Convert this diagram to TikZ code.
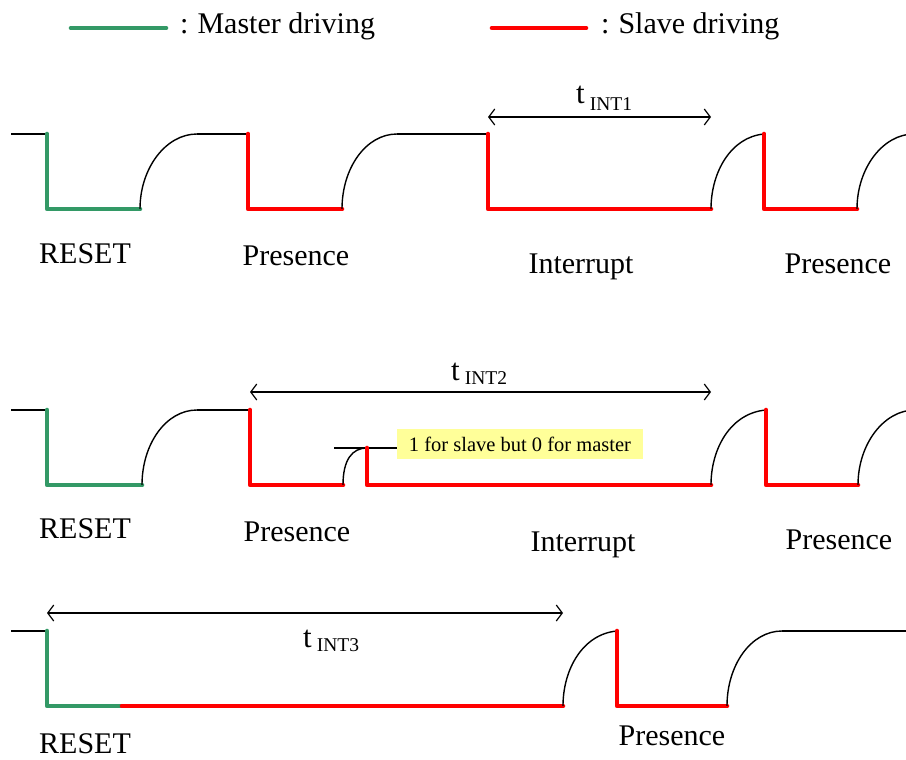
\documentclass[tikz,border=0pt]{standalone}
\usepackage{fontspec}
\setmainfont{Liberation Serif}
\usetikzlibrary{arrows.meta}
\definecolor{mgreen}{HTML}{339966}
\definecolor{sred}{HTML}{FF0000}
\definecolor{noteyel}{HTML}{FFFF99}
\tikzset{
  wire/.style  ={draw=black, line width=1.4pt},
  master/.style={draw=mgreen, line width=4.6pt, line cap=round, line join=round},
  slave/.style ={draw=sred, line width=4.6pt, line cap=round, line join=round},
  span/.style  ={{Straight Barb[length=6pt,width=16pt]}-{Straight Barb[length=6pt,width=16pt]}, line width=1.2pt},
  lbl/.style   ={font=\fontsize{30}{30}\selectfont, inner sep=0pt, anchor=base},
  tlbl/.style  ={font=\fontsize{31}{31}\selectfont, inner sep=0pt, anchor=base west},
  note/.style  ={fill=noteyel, font=\fontsize{20.5}{20.5}\selectfont, inner sep=0pt,
                 minimum width=246pt, minimum height=30pt},
}
% full rise: from low (x1) to high (x2), ends flat
\newcommand{\riseup}[3]{%
  \draw[wire] (#1,#3+75) .. controls (#1,#3+34) and (#2-31,#3) .. (#2,#3);}
% cut rise: ends where the slave pulls low again
\newcommand{\riseto}[3]{%
  \draw[wire] (#1,#3+75) .. controls (#1,#3+38) and (#1+20,#3+3) .. (#2,#3);}
\newcommand{\tint}[2]{t\hspace{5pt}\raisebox{-#2}{\fontsize{19.5}{19.5}\selectfont INT#1}}

\begin{document}
\begin{tikzpicture}[x=1pt,y=-1pt]
  \useasboundingbox (0,0) rectangle (906,760);

  % legend
  \draw[master] (71,28) -- (166,28);
  \node[lbl,anchor=base west] (legm) at (180,34) {:\hspace{-1pt} Master driving};
  \draw[slave] (492,28) -- (586,28);
  \node[lbl,anchor=base west] (legs) at (601,34) {:\hspace{-1pt} Slave driving};

  % row 1
  \draw[wire] (11,134) -- (47,134);
  \draw[master] (47,134) -- (47,209) -- (140,209);
  \riseup{140}{197}{134}
  \draw[wire] (197,134) -- (248,134);
  \draw[slave] (248,134) -- (248,209) -- (342,209);
  \riseup{342}{397}{134}
  \draw[wire] (397,134) -- (488,134);
  \draw[slave] (488,134) -- (488,209) -- (711,209);
  \riseto{711}{764}{134}
  \draw[slave] (764,134) -- (764,209) -- (857,209);
  \riseup{857}{914}{134}
  \draw[span] (488,117) -- (711,117);
  \node[tlbl] (t1) at (576,103) {\tint{1}{7pt}};
  \node[lbl] (rst1) at (85,263) {RESET};
  \node[lbl] (pra1) at (296,265) {Presence};
  \node[lbl] (int1) at (581,273) {Interrupt};
  \node[lbl] (prb1) at (838,273) {Presence};

  % row 2
  \draw[wire] (11,410) -- (47,410);
  \draw[master] (47,410) -- (47,485) -- (142,485);
  \riseup{142}{197}{410}
  \draw[wire] (197,410) -- (250,410);
  \draw[slave] (250,410) -- (250,485) -- (343,485);
  \node[note] (note) at (520,444) {1 for slave but 0 for master};
  \draw[wire] (334,448) -- (note.west |- 0,448);
  \draw[wire] (343,485) .. controls (343,460) and (352,448) .. (367,448);
  \draw[slave] (367,448) -- (367,485) -- (711,485);
  \riseto{711}{766}{410}
  \draw[slave] (766,410) -- (766,485) -- (858,485);
  \riseup{858}{915}{410}
  \draw[span] (250,392) -- (711,392);
  \node[tlbl] (t2) at (451,380) {\tint{2}{4pt}};
  \node[lbl] (rst2) at (85,538) {RESET};
  \node[lbl] (pra2) at (297,541) {Presence};
  \node[lbl] (int2) at (583,551) {Interrupt};
  \node[lbl] (prb2) at (839,549) {Presence};

  % row 3
  \draw[wire] (11,631) -- (47,631);
  \draw[master] (47,631) -- (47,706) -- (122,706);
  \draw[slave] (122,706) -- (563,706);
  \riseto{563}{617}{631}
  \draw[slave] (617,631) -- (617,706) -- (727,706);
  \riseup{727}{782}{631}
  \draw[wire] (782,631) -- (906,631);
  \draw[span] (47,613) -- (563,613);
  \node[tlbl] (t3) at (303,647) {\tint{3}{4pt}};
  \node[lbl] (rst3) at (85,753) {RESET};
  \node[lbl] (prc3) at (672,745) {Presence};
\end{tikzpicture}
\end{document}
